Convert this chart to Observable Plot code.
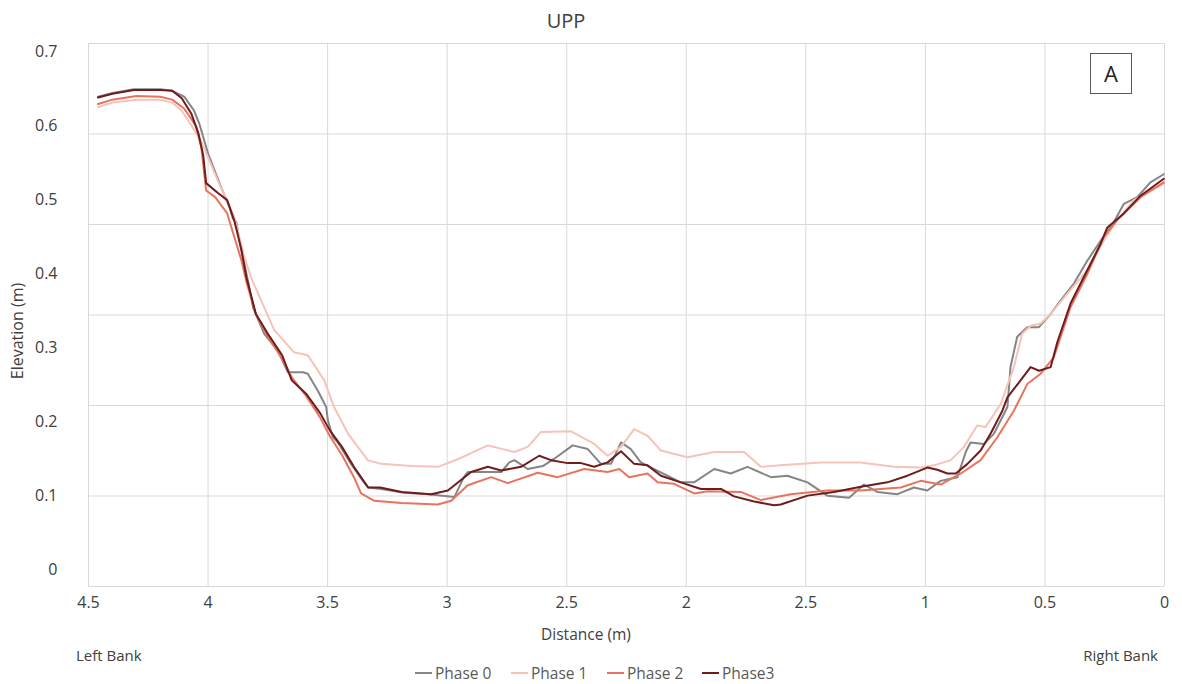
<!DOCTYPE html>
<html>
<head>
<meta charset="utf-8">
<script src="https://cdn.jsdelivr.net/npm/d3@7"></script>
<script src="https://cdn.jsdelivr.net/npm/@observablehq/plot@0.6"></script>
<style>
  body { margin: 0; background: #fff; }
  #chart { width: 1182px; height: 684px; }
</style>
</head>
<body>
<div id="chart"></div>
<script>
// Cross-section profile "UPP": elevation (m) against distance from the right bank (m)
const phaseNames = ["Phase 0", "Phase 1", "Phase 2", "Phase3"];
const phaseColors = ["#858585", "#f5c3b8", "#e8735e", "#6e1c1c"];

// [distance (m), elevation (m)]
const phase0 = [
  [4.46,0.640],[4.40,0.645],[4.31,0.650],[4.20,0.650],[4.15,0.648],[4.10,0.640],[4.06,0.622],[4.037,0.604],
  [4.00,0.563],[3.945,0.517],[3.91,0.490],[3.896,0.475],[3.882,0.470],[3.861,0.432],[3.833,0.391],[3.812,0.355],
  [3.765,0.319],[3.708,0.296],[3.666,0.267],[3.603,0.267],[3.583,0.265],[3.541,0.242],[3.506,0.220],[3.499,0.202],
  [3.478,0.179],[3.457,0.172],[3.402,0.143],[3.353,0.120],[3.332,0.111],[3.276,0.109],[3.18,0.104],[3.081,0.102],
  [2.970,0.098],[2.93,0.125],[2.914,0.132],[2.774,0.132],[2.74,0.145],[2.719,0.148],[2.663,0.136],[2.60,0.140],
  [2.552,0.150],[2.475,0.168],[2.412,0.163],[2.357,0.143],[2.315,0.143],[2.273,0.172],[2.232,0.163],[2.190,0.145],
  [2.134,0.136],[2.023,0.118],[1.967,0.118],[1.883,0.136],[1.814,0.130],[1.744,0.139],[1.646,0.125],[1.577,0.127],
  [1.493,0.118],[1.410,0.100],[1.319,0.097],[1.257,0.115],[1.201,0.105],[1.117,0.102],[1.048,0.111],[0.992,0.107],
  [0.936,0.120],[0.866,0.125],[0.83,0.160],[0.811,0.172],[0.755,0.170],[0.713,0.184],[0.657,0.220],[0.644,0.274],
  [0.616,0.315],[0.574,0.328],[0.525,0.328],[0.476,0.346],[0.435,0.364],[0.379,0.387],[0.323,0.418],[0.267,0.445],
  [0.212,0.470],[0.170,0.495],[0.114,0.504],[0.059,0.524],[0.003,0.535]
];
const phase1 = [
  [4.46,0.626],[4.40,0.632],[4.30,0.636],[4.20,0.636],[4.15,0.632],[4.11,0.621],[4.03,0.581],[3.96,0.527],
  [3.89,0.477],[3.85,0.425],[3.82,0.395],[3.778,0.364],[3.723,0.324],[3.640,0.294],[3.583,0.290],[3.514,0.256],
  [3.473,0.220],[3.415,0.184],[3.332,0.148],[3.276,0.143],[3.15,0.140],[3.039,0.139],[2.95,0.150],[2.830,0.168],
  [2.719,0.159],[2.663,0.166],[2.608,0.186],[2.482,0.187],[2.385,0.170],[2.329,0.154],[2.273,0.166],[2.218,0.190],
  [2.162,0.181],[2.106,0.161],[1.995,0.152],[1.883,0.159],[1.758,0.159],[1.688,0.139],[1.605,0.141],[1.438,0.145],
  [1.270,0.145],[1.131,0.139],[1.020,0.138],[0.964,0.141],[0.894,0.148],[0.839,0.166],[0.783,0.195],[0.748,0.193],
  [0.685,0.224],[0.630,0.274],[0.595,0.319],[0.560,0.330],[0.518,0.333],[0.476,0.346],[0.407,0.373],[0.323,0.405],
  [0.254,0.445],[0.198,0.473],[0.128,0.500],[0.059,0.513],[0.003,0.522]
];
const phase2 = [
  [4.46,0.630],[4.40,0.636],[4.30,0.641],[4.20,0.640],[4.15,0.636],[4.10,0.624],[4.05,0.600],[4.028,0.571],
  [4.008,0.513],[3.97,0.504],[3.92,0.482],[3.86,0.418],[3.84,0.390],[3.80,0.345],[3.75,0.315],[3.69,0.285],
  [3.65,0.260],[3.59,0.235],[3.53,0.205],[3.49,0.180],[3.44,0.155],[3.39,0.125],[3.36,0.103],[3.305,0.093],
  [3.19,0.090],[3.039,0.088],[2.983,0.093],[2.914,0.114],[2.816,0.125],[2.747,0.117],[2.621,0.131],[2.538,0.125],
  [2.427,0.136],[2.329,0.132],[2.280,0.136],[2.239,0.125],[2.162,0.130],[2.120,0.118],[2.051,0.116],[1.967,0.103],
  [1.911,0.106],[1.772,0.105],[1.688,0.094],[1.563,0.102],[1.410,0.107],[1.270,0.107],[1.103,0.111],[1.020,0.120],
  [0.936,0.115],[0.852,0.130],[0.769,0.148],[0.699,0.179],[0.630,0.215],[0.574,0.251],[0.518,0.265],[0.463,0.287],
  [0.393,0.355],[0.323,0.400],[0.254,0.450],[0.198,0.473],[0.100,0.504],[0.003,0.524]
];
const phase3 = [
  [4.46,0.639],[4.40,0.644],[4.31,0.649],[4.20,0.649],[4.15,0.648],[4.11,0.638],[4.07,0.617],[4.04,0.590],
  [4.02,0.560],[4.008,0.523],[3.96,0.510],[3.92,0.500],[3.89,0.472],[3.86,0.432],[3.84,0.396],[3.80,0.346],
  [3.75,0.319],[3.69,0.290],[3.65,0.256],[3.59,0.238],[3.53,0.211],[3.49,0.188],[3.44,0.166],[3.39,0.139],
  [3.33,0.111],[3.28,0.111],[3.19,0.105],[3.067,0.102],[2.997,0.107],[2.900,0.132],[2.830,0.139],[2.774,0.134],
  [2.691,0.139],[2.615,0.154],[2.566,0.148],[2.496,0.144],[2.440,0.144],[2.385,0.139],[2.329,0.145],[2.273,0.160],
  [2.218,0.143],[2.162,0.141],[2.106,0.127],[2.023,0.118],[1.939,0.109],[1.855,0.109],[1.800,0.099],[1.716,0.092],
  [1.633,0.087],[1.605,0.088],[1.493,0.100],[1.382,0.105],[1.270,0.112],[1.159,0.118],[1.075,0.127],[0.992,0.138],
  [0.950,0.135],[0.908,0.130],[0.873,0.130],[0.824,0.143],[0.769,0.161],[0.727,0.184],[0.678,0.215],[0.657,0.233],
  [0.602,0.256],[0.560,0.274],[0.525,0.269],[0.476,0.274],[0.448,0.308],[0.393,0.360],[0.323,0.405],[0.267,0.441],
  [0.239,0.463],[0.170,0.482],[0.100,0.506],[0.003,0.529]
];

// Axis ticks and the labels printed under them
const xTicks = [4.5, 4, 3.5, 3, 2.5, 2, 1.5, 1, 0.5, 0];
const xTickLabels = ["4.5", "4", "3.5", "3", "2.5", "2", "2.5", "1", "0.5", "0"];
const yTicks = [0, 0.1, 0.2, 0.3, 0.4, 0.5, 0.6, 0.7];
const yTickLabels = ["0", "0.1", "0.2", "0.3", "0.4", "0.5", "0.6", "0.7"];
const yDomain = [-0.023, 0.712];
const yGridCount = 6;

const xLabelOf = new Map(xTicks.map((t, i) => [t, xTickLabels[i]]));
const yLabelOf = new Map(yTicks.map((t, i) => [t, yTickLabels[i]]));
const yGrid = d3.range(yGridCount + 1).map(i => yDomain[0] + i * (yDomain[1] - yDomain[0]) / yGridCount);

const seriesPoints = [phase0, phase1, phase2, phase3];
const rows = seriesPoints.flatMap((pts, k) =>
  pts.map(([distance, elevation]) => ({phase: phaseNames[k], distance, elevation})));

const font = "'Open Sans', sans-serif";
const plot = Plot.plot({
  width: 1182,
  height: 684,
  marginLeft: 88,
  marginRight: 18,
  marginTop: 43,
  marginBottom: 98,
  style: {fontFamily: font, fontSize: "16px", color: "#404040", background: "#fff", overflow: "visible"},
  x: {domain: [4.5, 0], ticks: xTicks, tickFormat: d => xLabelOf.get(d), tickSize: 0, tickPadding: 10, label: null},
  y: {domain: yDomain, ticks: yTicks, tickFormat: d => yLabelOf.get(d), tickSize: 0, tickPadding: 31, label: null},
  color: {domain: phaseNames, range: phaseColors},
  marks: [
    Plot.ruleX(xTicks, {stroke: "#d9d9d9", strokeWidth: 1}),
    Plot.ruleY(yGrid, {stroke: "#d9d9d9", strokeWidth: 1}),
    Plot.line(rows, {x: "distance", y: "elevation", z: "phase", stroke: "phase", strokeWidth: 2, strokeLinejoin: "round"})
  ]
});
document.getElementById("chart").appendChild(plot);

// Titles, bank annotations, panel letter and legend
const svg = d3.select(plot);
const txt = "#404040";
function label(x, y, text, size, anchor, fill) {
  return svg.append("text").attr("x", x).attr("y", y).attr("text-anchor", anchor)
    .attr("font-family", font).attr("font-size", size).attr("fill", fill || txt).text(text);
}
label(566, 28, "UPP", 20, "middle");
svg.append("text").attr("transform", "translate(23,331) rotate(-90)").attr("text-anchor", "middle")
  .attr("font-family", font).attr("font-size", 16).attr("fill", txt).text("Elevation (m)");
label(586, 640, "Distance (m)", 15.5, "middle");
label(76, 661, "Left Bank", 15, "start");
label(1158, 661, "Right Bank", 15, "end");

const panel = svg.append("g");
panel.append("rect").attr("x", 1090.5).attr("y", 53.5).attr("width", 41).attr("height", 40)
  .attr("fill", "#fff").attr("stroke", "#595959").attr("stroke-width", 1);
label(1111, 82, "A", 22, "middle", "#222");

const legendX = [415, 511, 607, 702];
phaseNames.forEach((name, i) => {
  svg.append("line").attr("x1", legendX[i]).attr("x2", legendX[i] + 17)
    .attr("y1", 673).attr("y2", 673).attr("stroke", phaseColors[i]).attr("stroke-width", 2);
  label(legendX[i] + 20, 678.5, name, 15.5, "start", "#595959");
});
</script>
</body>
</html>
